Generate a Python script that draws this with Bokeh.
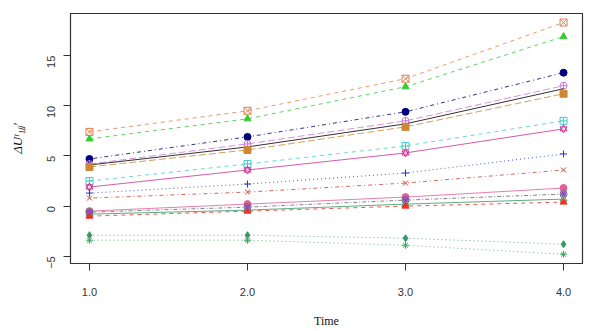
import math
from bokeh.plotting import figure
from bokeh.models import FixedTicker, Range1d
from bokeh.embed import file_html
from bokeh.resources import INLINE

time = [1, 2, 3, 4]

s_orange = [7.4, 9.5, 12.7, 18.3]
s_green_tri = [6.7, 8.7, 11.9, 16.9]
s_navy = [4.7, 6.9, 9.4, 13.3]
s_orchid = [4.2, 6.2, 8.5, 12.0]
s_black = [4.1, 5.9, 8.2, 11.7]
s_tan = [3.9, 5.6, 7.9, 11.2]
s_cyan = [2.5, 4.2, 6.0, 8.5]
s_magenta = [1.9, 3.6, 5.3, 7.7]
s_blue = [1.3, 2.2, 3.3, 5.2]
s_brown_x = [0.8, 1.4, 2.3, 3.6]
s_pink = [-0.5, 0.2, 0.9, 1.8]
s_purple = [-0.6, -0.1, 0.6, 1.2]
s_green_line = [-0.8, -0.4, 0.2, 0.7]
s_red_tri = [-1.0, -0.5, 0.0, 0.4]
s_diamond = [-2.9, -2.9, -3.2, -3.8]
s_asterisk = [-3.4, -3.4, -3.9, -4.8]

yticks = [-5, 0, 5, 10, 15]
xticks = [1, 2, 3, 4]
xtick_labels = ["1.0", "2.0", "3.0", "4.0"]

series = [
    (s_orange, "#e8804a", "4 4", ["square_x"], False),
    (s_green_tri, "#33cc33", "4 4", ["triangle"], True),
    (s_navy, "#000080", "1 3 4 3", ["circle"], True),
    (s_orchid, "#cc77dd", "7 3", ["circle_cross"], False),
    (s_black, "#000000", "solid", [], False),
    (s_tan, "#cc8833", "7 3", ["square"], True),
    (s_cyan, "#44cccc", "4 4", ["square_cross"], False),
    (s_magenta, "#cc3399", "solid", ["triangle", "inverted_triangle"], False),
    (s_blue, "#2233cc", "1 3", ["cross"], False),
    (s_brown_x, "#cc4433", "1 3 4 3", ["x"], False),
    (s_pink, "#e0609a", "solid", ["circle"], True),
    (s_purple, "#666677", "1 2 4 2", ["circle_x"], False),
    (s_green_line, "#339966", "solid", ["triangle"], False),
    (s_red_tri, "#ee3322", "4 4", ["triangle"], True),
    (s_diamond, "#339966", "1 3", ["diamond"], True),
    (s_asterisk, "#33aa55", "1 3", ["asterisk"], False),
]

p = figure(width=584, height=330, output_backend="svg", toolbar_location=None,
           x_range=Range1d(0.88, 4.12), y_range=Range1d(-5.72, 19.2),
           min_border_left=70, min_border_right=2, min_border_top=13, min_border_bottom=60)

for vals, col, dash, markers, filled in series:
    p.line(time, vals, line_color=col, line_width=0.9, line_dash=dash, line_alpha=0.9)
    for m in markers:
        if filled:
            p.scatter(time, vals, marker=m, size=7, line_color=col, fill_color=col)
        else:
            p.scatter(time, vals, marker=m, size=7, line_color=col, fill_color=None)

p.scatter(time, s_purple, marker="circle", size=4, line_color="#9944cc", fill_color="#9944cc")

p.xgrid.visible = False
p.ygrid.visible = False
p.outline_line_color = "#333333"
p.outline_line_width = 1.2

p.xaxis.ticker = FixedTicker(ticks=xticks)
p.xaxis.major_label_overrides = {t: l for t, l in zip(xticks, xtick_labels)}
p.yaxis.ticker = FixedTicker(ticks=yticks)
p.yaxis.major_label_overrides = {-5: "\u22125"}
p.yaxis.major_label_orientation = math.pi / 2

for ax in (p.xaxis[0], p.yaxis[0]):
    ax.axis_line_color = "#333333"
    ax.major_tick_out = 7
    ax.major_tick_in = 0
    ax.minor_tick_line_color = None
    ax.major_tick_line_color = "#333333"
    ax.major_label_text_font = "Liberation Sans"
    ax.major_label_text_font_size = "11px"
    ax.major_label_text_color = "#333333"
    ax.axis_label_text_font = "Liberation Serif"
    ax.axis_label_text_font_style = "normal"
    ax.axis_label_text_font_size = "12px"
    ax.axis_label_text_color = "#111111"

p.xaxis.axis_label = "Time"
p.xaxis.major_label_standoff = 17
p.xaxis.axis_label_standoff = 15
p.yaxis.axis_label = "\u0394U\u1d57\u2081\u2c7c\u2c7c\u2032"
p.yaxis.axis_label_text_font_style = "italic"
p.yaxis.axis_label_text_font_size = "13px"
p.yaxis.axis_label_standoff = 16
p.yaxis.major_label_standoff = 12

open("out.html", "w").write(file_html(p, INLINE))
